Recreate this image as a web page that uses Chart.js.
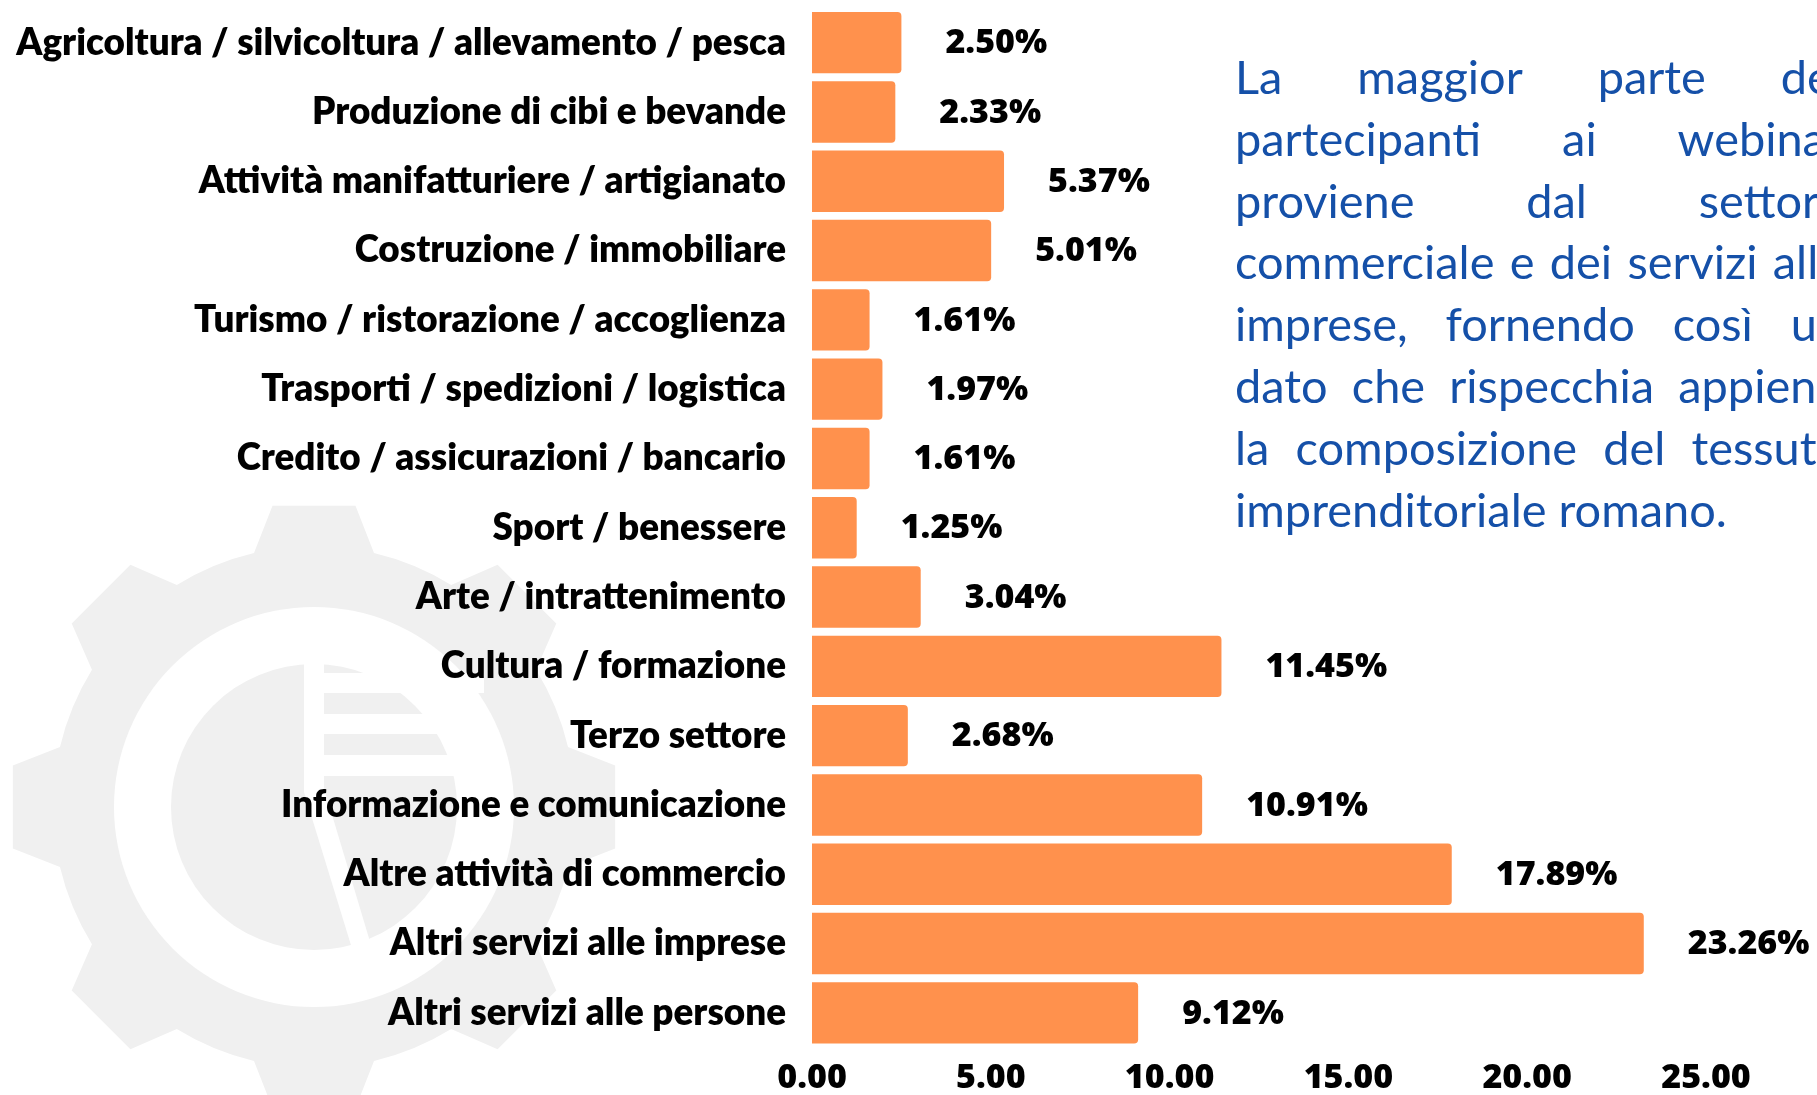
<!DOCTYPE html>
<html>
<head>
<meta charset="utf-8">
<script src="https://cdn.jsdelivr.net/npm/chart.js@4.4.0/dist/chart.umd.min.js"></script>
<style>
  html, body { margin: 0; padding: 0; background: #fff; overflow: hidden; }
  #wrap { position: relative; width: 1817px; height: 1095px; }
  #chart { position: absolute; left: 0; top: 0; }
  #note { position: absolute; left: 1235px; top: 46px; width: 608px; color: #1550a8; font-family: Lato, sans-serif; line-height: 61.8px; }
  #note .ln { display: flex; justify-content: space-between; white-space: nowrap; }
  #note .last { white-space: nowrap; }
</style>
</head>
<body>
<div id="wrap">
  <canvas id="chart" width="1817" height="1095"></canvas>
  <div id="note"></div>
</div>
<script>
const categories = [
  "Agricoltura / silvicoltura / allevamento / pesca",
  "Produzione di cibi e bevande",
  "Attività manifatturiere / artigianato",
  "Costruzione / immobiliare",
  "Turismo / ristorazione / accoglienza",
  "Trasporti / spedizioni / logistica",
  "Credito / assicurazioni / bancario",
  "Sport / benessere",
  "Arte / intrattenimento",
  "Cultura / formazione",
  "Terzo settore",
  "Informazione e comunicazione",
  "Altre attività di commercio",
  "Altri servizi alle imprese",
  "Altri servizi alle persone"
];
const shares = [2.50, 2.33, 5.37, 5.01, 1.61, 1.97, 1.61, 1.25, 3.04, 11.45, 2.68, 10.91, 17.89, 23.26, 9.12];
const xMin = 0, xMax = 25, xStep = 5;
const noteLines = [
  "La maggior parte dei",
  "partecipanti ai webinar",
  "proviene dal settore",
  "commerciale e dei servizi alle",
  "imprese, fornendo così un",
  "dato che rispecchia appieno",
  "la composizione del tessuto",
  "imprenditoriale romano."
];

// fit font sizes to the widths seen in the picture
const mctx = document.createElement("canvas").getContext("2d");
mctx.font = "800 100px Lato";
const labelSize = 100 * 770 / mctx.measureText(categories[0]).width;
mctx.font = "100px Lato";
const noteSize = 100 * 492 / mctx.measureText(noteLines[noteLines.length - 1]).width;

const note = document.getElementById("note");
note.style.fontSize = noteSize + "px";
noteLines.forEach((line, i) => {
  const div = document.createElement("div");
  if (i === noteLines.length - 1) {
    div.className = "last";
    div.textContent = line;
  } else {
    div.className = "ln";
    line.split(" ").forEach(w => {
      const s = document.createElement("span");
      s.textContent = w;
      div.appendChild(s);
    });
  }
  note.appendChild(div);
});

const gearMark = {
  id: "gearMark",
  beforeDraw(chart) {
    const ctx = chart.ctx;
    const cx = 314, cy = 807, rTip = 304, rBase = 261;
    const hb = Math.asin(60 / rBase), ht = Math.asin(41.5 / rTip);
    ctx.save();
    ctx.fillStyle = "#f0f0f0";
    ctx.beginPath();
    for (let i = 0; i < 8; i++) {
      const a = -Math.PI / 2 + i * Math.PI / 4;
      ctx.arc(cx, cy, rBase, a - Math.PI / 4 + hb, a - hb);
      ctx.lineTo(cx + rTip * Math.cos(a - ht), cy + rTip * Math.sin(a - ht));
      ctx.lineTo(cx + rTip * Math.cos(a + ht), cy + rTip * Math.sin(a + ht));
      ctx.lineTo(cx + rBase * Math.cos(a + hb), cy + rBase * Math.sin(a + hb));
    }
    ctx.closePath();
    ctx.fill();
    ctx.fillStyle = "#fff";
    ctx.beginPath(); ctx.arc(cx, cy, 200, 0, Math.PI * 2); ctx.fill();
    ctx.fillStyle = "#f0f0f0";
    ctx.beginPath(); ctx.arc(cx, cy, 143, 0, Math.PI * 2); ctx.fill();
    ctx.fillStyle = "#fff";
    [[673, 693], [714, 734], [755, 776]].forEach(([y0, y1]) => ctx.fillRect(324, y0, 160, y1 - y0));
    ctx.beginPath();
    ctx.moveTo(304, 640); ctx.lineTo(324, 640); ctx.lineTo(324, 788);
    ctx.lineTo(374, 955); ctx.lineTo(354, 955); ctx.lineTo(304, 792);
    ctx.closePath();
    ctx.fill();
    ctx.restore();
  }
};

const valueLabels = {
  id: "valueLabels",
  afterDatasetsDraw(chart) {
    const ctx = chart.ctx;
    const meta = chart.getDatasetMeta(0);
    ctx.save();
    ctx.font = "800 34px 'Open Sans'";
    ctx.fillStyle = "#000";
    ctx.textAlign = "left";
    ctx.textBaseline = "middle";
    meta.data.forEach((bar, i) => {
      ctx.fillText(shares[i].toFixed(2) + "%", bar.x + 44, bar.y + 1);
    });
    ctx.restore();
  }
};

new Chart(document.getElementById("chart"), {
  type: "bar",
  data: {
    labels: categories,
    datasets: [{
      data: shares,
      backgroundColor: "#ff914d",
      borderRadius: 4,
      barPercentage: 0.886,
      categoryPercentage: 1
    }]
  },
  options: {
    indexAxis: "y",
    responsive: false,
    animation: false,
    layout: { padding: { top: 8, right: 111, bottom: 0, left: 0 } },
    plugins: { legend: { display: false }, tooltip: { enabled: false } },
    scales: {
      x: {
        min: xMin, max: xMax,
        grid: { display: false, drawTicks: false },
        border: { display: false },
        ticks: {
          stepSize: xStep, padding: 10, color: "#000",
          font: { family: "'Open Sans'", weight: 800, size: 34 },
          callback: v => Number(v).toFixed(2)
        },
        afterFit: s => { s.height = 47.5; s.paddingLeft = 0; s.paddingRight = 0; }
      },
      y: {
        grid: { display: false, drawTicks: false },
        border: { display: false },
        ticks: {
          padding: 26, color: "#000", autoSkip: false,
          font: { family: "Lato", weight: 800, size: labelSize }
        },
        afterFit: s => { s.width = 812; s.paddingTop = 0; s.paddingBottom = 0; }
      }
    }
  },
  plugins: [gearMark, valueLabels]
});
</script>
</body>
</html>
